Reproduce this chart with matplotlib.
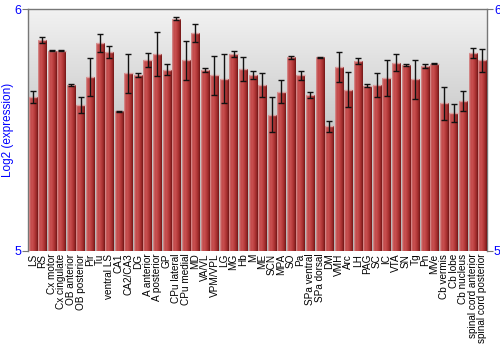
import numpy as np
import matplotlib
matplotlib.use("Agg")
import matplotlib.pyplot as plt
from matplotlib.colors import LinearSegmentedColormap

categories = ["LS", "RS", "Cx motor", "Cx cingulate", "OB anterior", "OB posterior", "Pir", "Tu",
              "ventral LS", "CA1", "CA2/CA3", "DG", "A anterior", "A posterior", "GP", "CPu lateral",
              "CPu medial", "MD", "VA/VL", "VPM/VPL", "LG", "MG", "Hb", "M", "ME", "SCN", "MPA", "SO",
              "Pa", "SPa ventral", "SPa dorsal", "DM", "VMH", "Arc", "LH", "PAG", "SC", "IC", "VTA",
              "SN", "Tg", "Pn", "MVe", "Cb vermis", "Cb lobe", "Cb nucleus", "spinal cord anterior",
              "spinal cord posterior"]
values = [5.635, 5.872, 5.828, 5.828, 5.687, 5.603, 5.719, 5.858,
          5.823, 5.578, 5.735, 5.726, 5.790, 5.814, 5.749, 5.961,
          5.789, 5.901, 5.748, 5.726, 5.713, 5.815, 5.752, 5.727,
          5.686, 5.563, 5.659, 5.800, 5.727, 5.646, 5.800, 5.516,
          5.760, 5.666, 5.785, 5.684, 5.686, 5.715, 5.779, 5.768,
          5.710, 5.766, 5.775, 5.611, 5.570, 5.619, 5.817, 5.788]
errors = [0.025, 0.013, 0.003, 0.003, 0.003, 0.033, 0.077, 0.037,
          0.024, 0.002, 0.080, 0.008, 0.030, 0.092, 0.022, 0.008,
          0.081, 0.039, 0.008, 0.081, 0.100, 0.012, 0.050, 0.015,
          0.048, 0.072, 0.046, 0.005, 0.019, 0.012, 0.003, 0.023,
          0.062, 0.072, 0.011, 0.008, 0.048, 0.075, 0.037, 0.004,
          0.081, 0.008, 0.004, 0.068, 0.037, 0.041, 0.021, 0.048]
y_ticks = [5, 6]

plt.rcParams['font.family'] = ['Liberation Sans', 'DejaVu Sans']

fig = plt.figure(figsize=(5, 3.5), dpi=100)
ax = fig.add_axes([0.056, 0.283, 0.918, 0.691])

x = np.arange(len(categories))
xmin, xmax = -0.5, len(categories) - 0.5

# background gradient (row 0 = bottom)
bg = LinearSegmentedColormap.from_list("bg", ["#b4b4b4", "#c8c8c8", "#f2f2f2"])
grad = np.linspace(0, 1, 256).reshape(-1, 1)
ax.imshow(grad, extent=(xmin, xmax, 5, 6), aspect='auto', cmap=bg, zorder=0,
          origin='lower', interpolation='bilinear')

bars = ax.bar(x, [v - 5 for v in values], bottom=5, width=0.86, color="#b53a3a",
              edgecolor='none', zorder=2)
barcmap = LinearSegmentedColormap.from_list(
    "bar", ["#d99a9a", "#c24a4a", "#c85050", "#b83c3c", "#a02c2c", "#701616"])
hgrad = np.linspace(0, 1, 64).reshape(1, -1)
for b in bars:
    x0 = b.get_x(); w = b.get_width(); h = b.get_height(); y0 = b.get_y()
    im = ax.imshow(hgrad, extent=(x0, x0 + w, y0, y0 + h), aspect='auto', cmap=barcmap,
                   zorder=3, origin='lower', interpolation='bilinear')
    im.set_clip_path(b)
    ax.plot([x0, x0 + w], [y0 + h, y0 + h], color="#dca0a0", lw=1.0, zorder=4,
            solid_capstyle='butt')

ax.errorbar(x, values, yerr=errors, fmt='none', ecolor='#111111', elinewidth=1.0,
            capsize=2.2, capthick=1.0, zorder=5)

ax.set_xlim(xmin, xmax)
ax.set_ylim(5, 6)
ax.set_xticks(x)
ax.set_xticklabels(categories, rotation=90, fontsize=7.2)
ax.tick_params(axis='x', length=0, pad=2)
ax.set_yticks(y_ticks)
ax.set_yticklabels([str(t) for t in y_ticks], color='blue', fontsize=9)
ax.tick_params(axis='y', length=4, color='#777777', pad=1, right=True, labelright=True)
ax.set_ylabel("Log2 (expression)", color='blue', fontsize=8.5)
ax.yaxis.set_label_coords(-0.031, 0.5)

for s in ['left', 'right', 'top']:
    ax.spines[s].set_color('#777777')
    ax.spines[s].set_linewidth(1.0)
ax.spines['bottom'].set_visible(False)

fig.savefig("out.png", dpi=100)
